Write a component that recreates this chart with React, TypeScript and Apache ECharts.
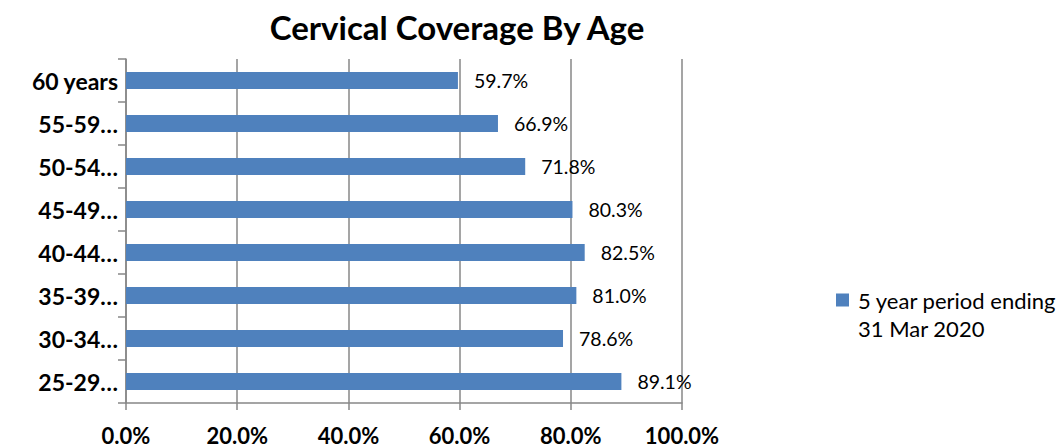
import React, { useEffect, useRef } from "react";
import * as echarts from "echarts";

const categories = ["25-29…", "30-34…", "35-39…", "40-44…", "45-49…", "50-54…", "55-59…", "60 years"];
const coverage = [89.1, 78.6, 81.0, 82.5, 80.3, 71.8, 66.9, 59.7];
const seriesName = "5 year period ending\n31 Mar 2020";
const xTicks = { min: 0, max: 100, interval: 20 };

const FONT = "Lato";
const GRAY = "#878787";

export default function App() {
  const ref = useRef<HTMLDivElement>(null);
  useEffect(() => {
    if (!ref.current) return;
    const chart = echarts.init(ref.current, null, { renderer: "svg" });
    chart.setOption({
      animation: false,
      backgroundColor: "#ffffff",
      textStyle: { fontFamily: FONT },
      title: {
        text: "Cervical Coverage By Age",
        left: 457,
        textAlign: "center",
        top: 10,
        padding: 0,
        textStyle: { fontFamily: FONT, fontWeight: "bold", fontSize: 33, color: "#000" },
      },
      legend: {
        left: 836,
        top: 286,
        padding: 0,
        itemWidth: 13,
        itemHeight: 41,
        itemGap: 9,
        icon: "path://M0,0H13V13H0Z M0,41h0.01v0.01h-0.01Z",
        textStyle: { fontFamily: FONT, fontSize: 22, color: "#000", lineHeight: 28, padding: [0, 0, 0, 4] },
        data: [seriesName],
      },
      grid: { left: 126, right: 379, top: 59, bottom: 45, containLabel: false },
      xAxis: {
        type: "value",
        min: xTicks.min,
        max: xTicks.max,
        interval: xTicks.interval,
        axisLine: { show: true, lineStyle: { color: GRAY, width: 1.5 } },
        axisTick: { show: true, length: 7, lineStyle: { color: GRAY, width: 1.5 } },
        splitLine: { show: true, lineStyle: { color: GRAY, width: 1.5 } },
        axisLabel: {
          margin: 23,
          fontFamily: FONT,
          fontWeight: "bold",
          fontSize: 22,
          lineHeight: 18,
          color: "#000",
          formatter: (v: number) => v.toFixed(1) + "%",
        },
      },
      yAxis: {
        type: "category",
        data: categories,
        axisLine: { show: true, lineStyle: { color: GRAY, width: 1.5 } },
        axisTick: { show: true, length: 8, alignWithLabel: false, lineStyle: { color: GRAY, width: 1.5 } },
        splitLine: { show: false },
        axisLabel: {
          margin: 8,
          fontFamily: FONT,
          fontWeight: "bold",
          fontSize: 23,
          color: "#000",
        },
      },
      series: [
        {
          name: seriesName,
          type: "bar",
          data: coverage,
          barWidth: 17,
          itemStyle: { color: "#4F81BD" },
          label: {
            show: true,
            position: "right",
            distance: 16,
            fontFamily: FONT,
            fontSize: 19.5,
            color: "#000",
            formatter: (p: any) => Number(p.value).toFixed(1) + "%",
          },
        },
      ],
    });
    return () => chart.dispose();
  }, []);
  return (
    <div
      ref={ref}
      style={{ position: "fixed", left: 0, top: 0, width: 1061, height: 448 }}
    />
  );
}
